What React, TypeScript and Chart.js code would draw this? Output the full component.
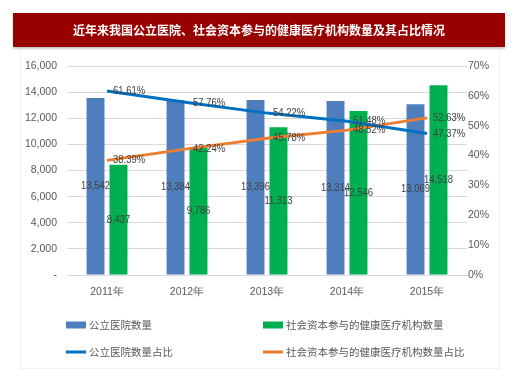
import React, { useEffect, useRef } from "react";
import { Chart, registerables } from "chart.js";

Chart.register(...registerables);

const titleText = "近年来我国公立医院、社会资本参与的健康医疗机构数量及其占比情况";
const years = ["2011年", "2012年", "2013年", "2014年", "2015年"];
const publicCount = [13542, 13384, 13396, 13314, 13069];
const socialCount = [8437, 9786, 11313, 12546, 14518];
const publicShare = [61.61, 57.76, 54.22, 51.48, 47.37];
const socialShare = [38.39, 42.24, 45.78, 48.52, 52.63];
const seriesNames = ["公立医院数量", "社会资本参与的健康医疗机构数量", "公立医院数量占比", "社会资本参与的健康医疗机构数量占比"];

const NUM_FONT = "'Liberation Sans Narrow', 'Liberation Sans', sans-serif";
const CJK_FONT = "'Noto Sans CJK SC', 'Microsoft YaHei', sans-serif";
const TEXT_COLOR = "#595959";

const fmt = (v: number) => v.toLocaleString("en-US");

const labelPlugin = {
  id: "valueLabels",
  afterDatasetsDraw(chart: any) {
    const ctx = chart.ctx;
    ctx.save();
    ctx.font = `11px ${NUM_FONT}`;
    ctx.fillStyle = "#404040";
    ctx.textBaseline = "middle";
    const draw = (t: string, x: number, y: number, align: string) => {
      ctx.save();
      ctx.translate(x, y);
      ctx.scale(0.86, 1);
      ctx.textAlign = align;
      ctx.fillText(t, 0, 0);
      ctx.restore();
    };
    chart.data.datasets.forEach((ds: any, di: number) => {
      const meta = chart.getDatasetMeta(di);
      meta.data.forEach((el: any, i: number) => {
        const v = ds.data[i];
        if (ds.type === "bar") {
          draw(fmt(v), el.x, (el.y + el.base) / 2, "center");
        } else {
          draw(v.toFixed(2) + "%", el.x + 6, el.y, "left");
        }
      });
    });
    ctx.restore();
  },
};

const legendPlugin = {
  id: "gridLegend",
  afterDraw(chart: any) {
    const ctx = chart.ctx;
    ctx.save();
    ctx.font = `10.5px ${CJK_FONT}`;
    ctx.textBaseline = "middle";
    ctx.textAlign = "left";
    const cols = [66, 263];
    const rows = [325, 352];
    chart.data.datasets.forEach((ds: any, di: number) => {
      const x = cols[di % 2];
      const y = rows[Math.floor(di / 2)];
      ctx.fillStyle = ds.type === "bar" ? ds.backgroundColor : ds.borderColor;
      if (ds.type === "bar") ctx.fillRect(x, y - 3.5, 20, 7);
      else ctx.fillRect(x, y - 1.5, 20, 3);
      ctx.fillStyle = TEXT_COLOR;
      ctx.fillText(ds.label, x + 23, y);
    });
    ctx.restore();
  },
};

export default function App() {
  const ref = useRef<HTMLCanvasElement>(null);
  useEffect(() => {
    if (!ref.current) return;
    const chart = new Chart(ref.current, {
      type: "bar",
      data: {
        labels: years,
        datasets: [
          {
            type: "bar",
            label: seriesNames[0],
            data: publicCount,
            backgroundColor: "#4F7EBD",
            yAxisID: "y",
            categoryPercentage: 0.575,
            barPercentage: 0.78,
            order: 2,
          },
          {
            type: "bar",
            label: seriesNames[1],
            data: socialCount,
            backgroundColor: "#00B050",
            yAxisID: "y",
            categoryPercentage: 0.575,
            barPercentage: 0.78,
            order: 2,
          },
          {
            type: "line",
            label: seriesNames[2],
            data: publicShare,
            borderColor: "#0070C0",
            backgroundColor: "#0070C0",
            borderWidth: 3,
            pointRadius: 0,
            tension: 0,
            yAxisID: "y1",
            order: 1,
          },
          {
            type: "line",
            label: seriesNames[3],
            data: socialShare,
            borderColor: "#ED7D31",
            backgroundColor: "#ED7D31",
            borderWidth: 3,
            pointRadius: 0,
            tension: 0,
            yAxisID: "y1",
            order: 1,
          },
        ] as any,
      },
      options: {
        animation: false,
        responsive: false,
        layout: { padding: { left: 20, right: 0, top: 66, bottom: 77 } },
        plugins: { legend: { display: false }, tooltip: { enabled: false }, title: { display: false } },
        scales: {
          x: {
            grid: { display: false, drawTicks: false },
            border: { color: "#D9D9D9" },
            ticks: { color: TEXT_COLOR, font: { family: NUM_FONT, size: 10.5 }, padding: 11 },
            afterFit: (s: any) => { s.height = 30; },
          },
          y: {
            position: "left",
            min: 0,
            max: 16000,
            ticks: {
              stepSize: 2000,
              color: TEXT_COLOR,
              font: { family: NUM_FONT, size: 10.5 },
              padding: 10,
              callback: (v: any) => (v === 0 ? "-" : fmt(v)),
            },
            grid: { color: "#D9D9D9", drawTicks: false },
            border: { display: false },
            afterFit: (s: any) => { s.width = 47; },
          },
          y1: {
            position: "right",
            min: 0,
            max: 70,
            ticks: {
              stepSize: 10,
              color: TEXT_COLOR,
              font: { family: NUM_FONT, size: 10.5 },
              padding: 1,
              callback: (v: any) => v + "%",
            },
            grid: { display: false, drawTicks: false },
            border: { display: false },
            afterFit: (s: any) => { s.width = 53; },
          },
        },
      },
      plugins: [labelPlugin, legendPlugin],
    });
    return () => chart.destroy();
  }, []);

  return (
    <div style={{ position: "fixed", left: 0, top: 0, width: 520, height: 382, background: "#fff" }}>
      <div
        style={{
          position: "absolute",
          left: 20,
          top: 47,
          width: 480,
          height: 322,
          border: "1px solid #F0F0F0",
          boxSizing: "border-box",
        }}
      />
      <canvas ref={ref} width={520} height={382} style={{ position: "absolute", left: 0, top: 0 }} />
      <div
        style={{
          position: "absolute",
          left: 13,
          top: 13,
          width: 492,
          height: 34,
          background: "#990000",
          color: "#fff",
          fontFamily: CJK_FONT,
          fontWeight: "bold",
          fontSize: 12,
          lineHeight: "34px",
          textAlign: "center",
          boxShadow: "0 2px 2px #ccc",
        }}
      >
        {titleText}
      </div>
    </div>
  );
}
